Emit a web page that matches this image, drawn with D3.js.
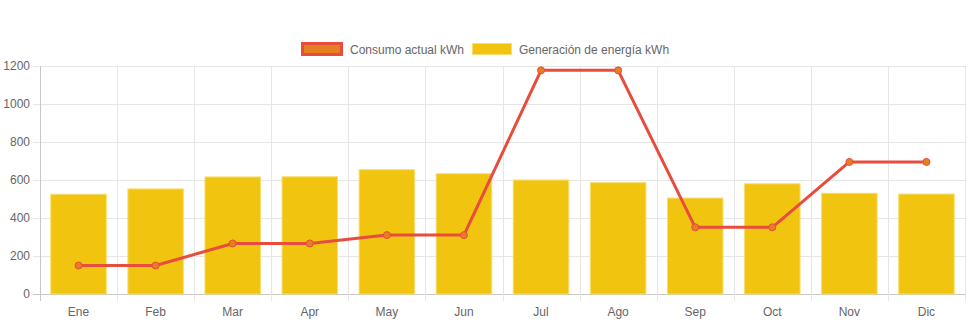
<!DOCTYPE html>
<html><head><meta charset="utf-8">
<script src="https://cdn.jsdelivr.net/npm/d3@7/dist/d3.min.js"></script>
<style>body{margin:0;background:#fff}svg{display:block}</style>
</head><body>
<svg id="c" width="971" height="323"></svg>
<script>
const months = ["Ene","Feb","Mar","Apr","May","Jun","Jul","Ago","Sep","Oct","Nov","Dic"];
const consumo = [150,150,266,266,310,310,1177,1177,351,351,695,695];
const generacion = [525,553,616,617,654,633,600,586,505,580,530,526];
const yTicks = [0,200,400,600,800,1000,1200];
const seriesNames = ["Consumo actual kWh","Generación de energía kWh"];

const svg = d3.select("#c");
const font = "'Liberation Sans', Arial, Helvetica, sans-serif";
const L = 40, R = 965, T = 66, B = 294;
const x = d3.scaleBand().domain(months).range([L, R]).paddingInner(0).paddingOuter(0);
const y = d3.scaleLinear().domain([0,1200]).range([B, T]);

// grid
const g = svg.append("g");
g.selectAll(".hg").data(yTicks).join("line")
  .attr("x1", L-7).attr("x2", R).attr("y1", d=>y(d)+0.5).attr("y2", d=>y(d)+0.5)
  .attr("stroke", d=> d===0 ? "#c8c8c8" : "#e6e6e6").attr("stroke-width",1);
const vlines = months.map((m,i)=>x(m)).concat([R]);
g.selectAll(".vg").data(vlines).join("line")
  .attr("x1", d=>Math.round(d)+0.5).attr("x2", d=>Math.round(d)+0.5)
  .attr("y1", T).attr("y2", B+7)
  .attr("stroke", (d,i)=> i===0 ? "#c8c8c8" : "#e6e6e6").attr("stroke-width",1);

// y labels
g.selectAll(".yl").data(yTicks).join("text")
  .attr("x", L-10).attr("y", d=>y(d)+4)
  .attr("text-anchor","end").attr("font-family",font).attr("font-size",12).attr("fill","#666")
  .text(d=>d);
// x labels
g.selectAll(".xl").data(months).join("text")
  .attr("x", d=>x(d)+x.bandwidth()/2).attr("y", B+22)
  .attr("text-anchor","middle").attr("font-family",font).attr("font-size",12).attr("fill","#666")
  .text(d=>d);

// bars
const bw = x.bandwidth()*0.72;
svg.append("g").selectAll("rect").data(generacion).join("rect")
  .attr("x", (d,i)=>x(months[i])+(x.bandwidth()-bw)/2)
  .attr("width", bw)
  .attr("y", d=>y(d)).attr("height", d=>B-y(d))
  .attr("fill","#f1c40f").attr("stroke","#f7dc6f").attr("stroke-width",1);

// line
const line = d3.line().x((d,i)=>x(months[i])+x.bandwidth()/2).y(d=>y(d));
svg.append("path").datum(consumo).attr("d", line)
  .attr("fill","none").attr("stroke","#e74c3c").attr("stroke-width",3).attr("stroke-linejoin","round");
svg.append("g").selectAll("circle").data(consumo).join("circle")
  .attr("cx",(d,i)=>x(months[i])+x.bandwidth()/2).attr("cy",d=>y(d)).attr("r",3.5)
  .attr("fill","#e67e22").attr("stroke","#e74c3c").attr("stroke-width",1);

// legend
const lg = svg.append("g");
lg.append("rect").attr("x",302.5).attr("y",43.5).attr("width",39).attr("height",11)
  .attr("fill","#e67e22").attr("stroke","#e74c3c").attr("stroke-width",3);
lg.append("text").attr("x",350).attr("y",53.5).attr("font-family",font).attr("font-size",12).attr("fill","#666").text(seriesNames[0]);
lg.append("rect").attr("x",472.5).attr("y",43.5).attr("width",39).attr("height",11)
  .attr("fill","#f1c40f").attr("stroke","#f7dc6f").attr("stroke-width",1);
lg.append("text").attr("x",519).attr("y",53.5).attr("font-family",font).attr("font-size",12).attr("fill","#666").text(seriesNames[1]);
</script>
</body></html>
